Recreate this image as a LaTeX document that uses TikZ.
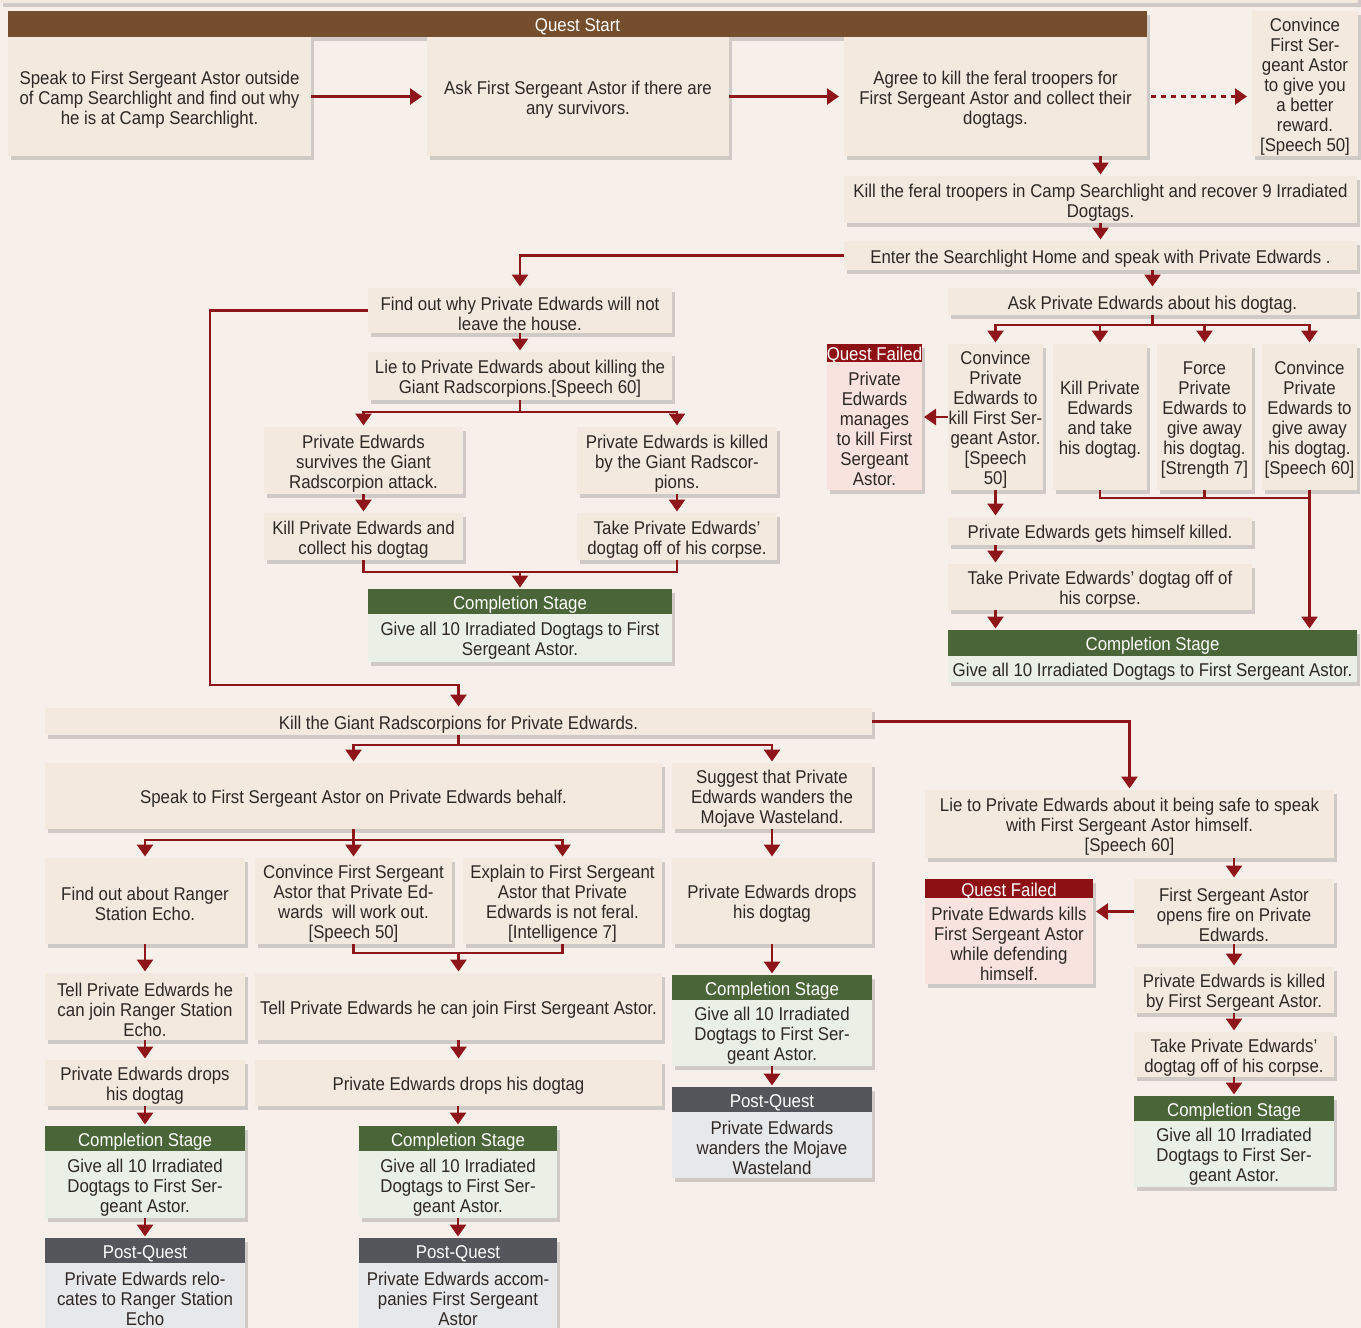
\documentclass[tikz,border=0pt]{standalone}
\usepackage{fontspec}
\setmainfont{Liberation Sans}[FakeStretch=0.91]
\usetikzlibrary{arrows.meta,shadows,calc}
\definecolor{bgc}{HTML}{F7F0EA}
\definecolor{boxc}{HTML}{F3E9DF}
\definecolor{txt}{HTML}{2E2825}
\definecolor{brownc}{HTML}{744E2D}
\definecolor{redc}{HTML}{8E1519}
\definecolor{greenh}{HTML}{4A6537}
\definecolor{greenb}{HTML}{EAF0E6}
\definecolor{greyh}{HTML}{55565B}
\definecolor{greyb}{HTML}{E7E8EA}
\definecolor{failh}{HTML}{8C1014}
\definecolor{failb}{HTML}{F8E3DF}
\tikzset{
  every node/.style={font=\fontsize{18.5}{20}\selectfont},
  base/.style={inner sep=0pt, outer sep=0pt,
    drop shadow={shadow xshift=3pt,shadow yshift=-4pt,opacity=0.3,fill=black!55}},
  textonly/.style={inner sep=0pt, align=center},
  box/.style={fill=boxc, text=txt},
  hbrown/.style={fill=brownc, text=white},
  hgreen/.style={fill=greenh, text=white},
  bgreen/.style={fill=greenb, text=txt},
  hgrey/.style={fill=greyh, text=white},
  bgrey/.style={fill=greyb, text=txt},
  hfail/.style={fill=failh, text=white},
  bfail/.style={fill=failb, text=txt},
  conn/.style={draw=redc, line width=2.8pt},
  arr/.style={conn, -{Triangle[width=16pt,length=12pt]}, shorten >=1.5pt},
}
\newcommand\bx[7][box]{%
  \node[base, #1, minimum width={#5-#3}, minimum height={#6-#4}] (#2) at ({(#3+#5)/2},{(#4+#6)/2}) {};%
  \node[textonly, #1, fill=none] (#2-t) at ([yshift=-3pt]#2.center) {#7};}
\begin{document}
\begin{tikzpicture}[x=1pt,y=-1pt]
\fill[bgc] (0,0) rectangle (1361,1328);
\useasboundingbox (0,0) rectangle (1361,1328);
% top strip
\bx{top}{0}{-30}{1358}{3}{}
% row A
\bx[hbrown]{qs}{8}{11}{1147}{37}{Quest Start}
\bx{A1}{8}{37}{311}{156}{Speak to First Sergeant Astor outside\\of Camp Searchlight and find out why\\he is at Camp Searchlight.}
\bx{A2}{427}{37}{729}{156}{Ask First Sergeant Astor if there are\\any survivors.}
\bx{A3}{844}{37}{1147}{156}{Agree to kill the feral troopers for\\First Sergeant Astor and collect their\\dogtags.}
\bx{A4}{1252}{11}{1358}{156}{Convince\\First Ser-\\geant Astor\\to give you\\a better\\reward.\\{[Speech 50]}}
\bx{B1}{844}{176}{1357}{223}{Kill the feral troopers in Camp Searchlight and recover 9 Irradiated\\Dogtags.}
\bx{B2}{844}{241}{1357}{270}{Enter the Searchlight Home and speak with Private Edwards .}
% left branch C
\bx{C1}{368}{288}{672}{333}{Find out why Private Edwards will not\\leave the house.}
\bx{C2}{368}{352}{672}{400}{Lie to Private Edwards about killing the\\Giant Radscorpions.[Speech 60]}
\bx{C3L}{264}{427}{463}{494}{Private Edwards\\survives the Giant\\Radscorpion attack.}
\bx{C3R}{577}{427}{777}{494}{Private Edwards is killed\\by the Giant Radscor-\\pions.}
\bx{C4L}{264}{513}{463}{560}{Kill Private Edwards and\\collect his dogtag}
\bx{C4R}{577}{513}{777}{560}{Take Private Edwards’\\dogtag off of his corpse.}
\bx[hgreen]{C5h}{368}{589}{672}{614}{Completion Stage}
\bx[bgreen]{C5}{368}{614}{672}{662}{Give all 10 Irradiated Dogtags to First\\Sergeant Astor.}
% right branch D
\bx{D1}{948}{288}{1357}{315}{Ask Private Edwards about his dogtag.}
\bx{D2a}{948}{344}{1043}{490}{Convince\\Private\\Edwards to\\kill First Ser-\\geant Astor.\\{[Speech}\\50]}
\bx{D2b}{1053}{344}{1147}{490}{Kill Private\\Edwards\\and take\\his dogtag.}
\bx{D2c}{1157}{344}{1252}{490}{Force\\Private\\Edwards to\\give away\\his dogtag.\\{[Strength 7]}}
\bx{D2d}{1262}{344}{1357}{490}{Convince\\Private\\Edwards to\\give away\\his dogtag.\\{[Speech 60]}}
\bx[hfail]{QF1h}{827}{344}{922}{362}{Quest Failed}
\bx[bfail]{QF1}{827}{362}{922}{490}{Private\\Edwards\\manages\\to kill First\\Sergeant\\Astor.}
\bx{D3}{948}{517}{1252}{545}{Private Edwards gets himself killed.}
\bx{D4}{948}{564}{1252}{610}{Take Private Edwards’ dogtag off of\\his corpse.}
\bx[hgreen]{D5h}{948}{630}{1357}{656}{Completion Stage}
\bx[bgreen]{D5}{948}{656}{1357}{682}{Give all 10 Irradiated Dogtags to First Sergeant Astor.}
% middle E
\bx{E1}{45}{708}{872}{735}{Kill the Giant Radscorpions for Private Edwards.}
\bx{E2}{45}{763}{662}{829}{Speak to First Sergeant Astor on Private Edwards behalf.}
\bx{E2b}{672}{763}{872}{829}{Suggest that Private\\Edwards wanders the\\Mojave Wasteland.}
\bx{F1}{45}{858}{245}{944}{Find out about Ranger\\Station Echo.}
\bx{F2}{255}{858}{452}{944}{Convince First Sergeant\\Astor that Private Ed-\\wards~ will work out.\\{[Speech 50]}}
\bx{F3}{463}{858}{662}{944}{Explain to First Sergeant\\Astor that Private\\Edwards is not feral.\\{[Intelligence 7]}}
\bx{G1}{45}{973}{245}{1040}{Tell Private Edwards he\\can join Ranger Station\\Echo.}
\bx{G2}{255}{973}{662}{1040}{Tell Private Edwards he can join First Sergeant Astor.}
\bx{H1}{45}{1060}{245}{1106}{Private Edwards drops\\his dogtag}
\bx{H2}{255}{1060}{662}{1106}{Private Edwards drops his dogtag}
\bx[hgreen]{I1h}{45}{1126}{245}{1151}{Completion Stage}
\bx[bgreen]{I1}{45}{1151}{245}{1218}{Give all 10 Irradiated\\Dogtags to First Ser-\\geant Astor.}
\bx[hgreen]{I2h}{359}{1126}{557}{1151}{Completion Stage}
\bx[bgreen]{I2}{359}{1151}{557}{1218}{Give all 10 Irradiated\\Dogtags to First Ser-\\geant Astor.}
\bx[hgrey]{J1h}{45}{1238}{245}{1263}{Post-Quest}
\bx[bgrey]{J1}{45}{1263}{245}{1328}{Private Edwards relo-\\cates to Ranger Station\\Echo}
\bx[hgrey]{J2h}{359}{1238}{557}{1263}{Post-Quest}
\bx[bgrey]{J2}{359}{1263}{557}{1328}{Private Edwards accom-\\panies First Sergeant\\Astor}
% column K
\bx{K1}{672}{858}{872}{944}{Private Edwards drops\\his dogtag}
\bx[hgreen]{K2h}{672}{975}{872}{1000}{Completion Stage}
\bx[bgreen]{K2}{672}{1000}{872}{1066}{Give all 10 Irradiated\\Dogtags to First Ser-\\geant Astor.}
\bx[hgrey]{K3h}{672}{1087}{872}{1112}{Post-Quest}
\bx[bgrey]{K3}{672}{1112}{872}{1178}{Private Edwards\\wanders the Mojave\\Wasteland}
% column L
\bx{L1}{925}{790}{1334}{858}{Lie to Private Edwards about it being safe to speak\\with First Sergeant Astor himself.\\{[Speech 60]}}
\bx{L2}{1134}{879}{1334}{944}{First Sergeant Astor\\opens fire on Private\\Edwards.}
\bx[hfail]{QF2h}{925}{879}{1093}{898}{Quest Failed}
\bx[bfail]{QF2}{925}{898}{1093}{984}{Private Edwards kills\\First Sergeant Astor\\while defending\\himself.}
\bx{L3}{1134}{967}{1334}{1013}{Private Edwards is killed\\by First Sergeant Astor.}
\bx{L4}{1134}{1032}{1334}{1077}{Take Private Edwards’\\dogtag off of his corpse.}
\bx[hgreen]{L5h}{1134}{1096}{1334}{1121}{Completion Stage}
\bx[bgreen]{L5}{1134}{1121}{1334}{1187}{Give all 10 Irradiated\\Dogtags to First Ser-\\geant Astor.}

% connectors top
\draw[arr, shorten >=5pt] (A1.east) -- (A2.west);
\draw[arr, shorten >=5pt] (A2.east) -- (A3.west);
\draw[arr, dash pattern=on 5pt off 5pt, shorten <=4pt, shorten >=5pt] (A3.east) -- (A3.east -| A4.west);
\draw[arr] (A3.south -| B1.north) -- (B1.north);
\draw[arr] (B1.south) -- (B2.north);
\draw[arr] (B2.south -| D1.north) -- (D1.north);
\draw[arr] (B2.west) -| (C1.north);
% left branch
\coordinate (cturn) at (210,685);
\draw[arr] (C1.west) -| (cturn) -| (E1.north);
\draw[arr] (C1.south) -- (C2.north);
\draw[arr] (C2.south) -- ++(0,12) -| (C3L.north);
\draw[arr] (C2.south) -- ++(0,12) -| (C3R.north);
\draw[arr] (C3L.south) -- (C4L.north);
\draw[arr] (C3R.south) -- (C4R.north);
\draw[conn] (C4L.south) -- ++(0,12) -| (C4R.south);
\draw[arr] ($(C5h.north |- C4L.south)+(0,12)$) -- (C5h.north);
% right branch
\draw[arr] (D1.south) -- ++(0,10) -| (D2a.north);
\draw[arr] (D1.south) -- ++(0,10) -| (D2b.north);
\draw[arr] (D1.south) -- ++(0,10) -| (D2c.north);
\draw[arr] (D1.south) -- ++(0,10) -| (D2d.north);
\draw[arr, shorten >=2pt] (D2a.west) -- (QF1.east |- D2a.west);
\draw[arr] (D2a.south) -- (D2a.south |- D3.north);
\draw[arr] (D3.south -| D2a.south) -- (D4.north -| D2a.south);
\draw[arr] (D4.south -| D2a.south) -- (D5h.north -| D2a.south);
\draw[conn] (D2b.south) -- ++(0,8) -| (D2d.south);
\draw[conn] (D2c.south) -- ++(0,8);
\draw[arr] (D2d.south) -- (D2d.south |- D5h.north);
% middle
\draw[arr] (E1.south) -- ++(0,10) -| (E2.north);
\draw[arr] (E1.south) -- ++(0,10) -| (E2b.north);
\draw[arr] (E1.east) -| (L1.north);
\draw[arr] (E2.south) -- ++(0,11) -| (F1.north);
\draw[arr] (E2.south) -- ++(0,11) -| (F2.north);
\draw[arr] (E2.south) -- ++(0,11) -| (F3.north);
\draw[arr] (F1.south) -- (G1.north);
\draw[conn] (F2.south) -- ++(0,9) -| (F3.south);
\draw[arr] ($(G2.north |- F2.south)+(0,9)$) -- (G2.north);
\draw[arr] (G1.south) -- (H1.north);
\draw[arr] (G2.south) -- (H2.north);
\draw[arr] (H1.south) -- (I1h.north);
\draw[arr] (H2.south -| I2h.north) -- (I2h.north);
\draw[arr] (I1.south) -- (J1h.north);
\draw[arr] (I2.south) -- (J2h.north);
\draw[arr] (E2b.south) -- (K1.north);
\draw[arr] (K1.south) -- (K2h.north);
\draw[arr] (K2.south) -- (K3h.north);
% column L
\draw[arr] (L1.south -| L2.north) -- (L2.north);
\draw[arr, shorten >=3pt] (L2.west) -- (QF2.east |- L2.west);
\draw[arr] (L2.south) -- (L3.north);
\draw[arr] (L3.south) -- (L4.north);
\draw[arr] (L4.south) -- (L5h.north);
\end{tikzpicture}
\end{document}
